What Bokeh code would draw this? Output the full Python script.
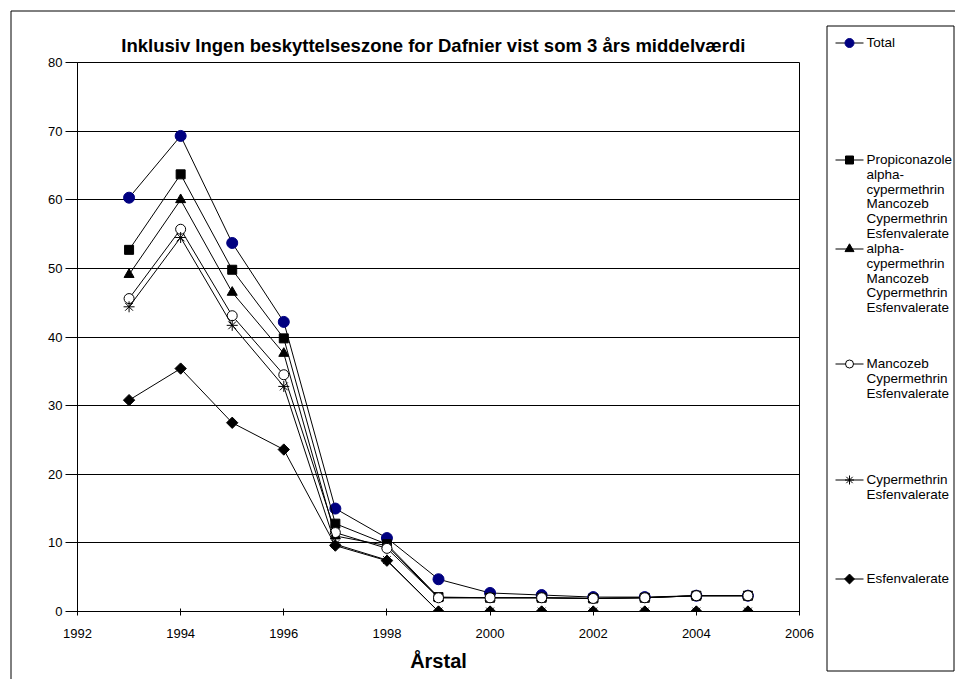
import math
from bokeh.plotting import figure
from bokeh.models import Range1d, FixedTicker
from bokeh.embed import file_html
from bokeh.resources import INLINE
from bokeh.core.properties import value

# ---------------- data ----------------
years = [1993, 1994, 1995, 1996, 1997, 1998, 1999, 2000, 2001, 2002, 2003, 2004, 2005]
total = [60.3, 69.3, 53.7, 42.2, 15.0, 10.7, 4.7, 2.7, 2.4, 2.1, 2.1, 2.3, 2.3]
propiconazole_etc = [52.7, 63.7, 49.8, 39.8, 12.8, 9.8, 2.1, 2.0, 2.0, 1.9, 2.0, 2.3, 2.3]
alpha_cyper_etc = [49.1, 60.0, 46.5, 37.6, 11.0, 9.6, 2.0, 2.0, 2.0, 1.9, 2.0, 2.3, 2.3]
mancozeb_etc = [45.6, 55.7, 43.1, 34.5, 11.5, 9.2, 2.0, 2.0, 2.0, 1.9, 2.0, 2.3, 2.3]
cypermethrin_etc = [44.4, 54.5, 41.7, 32.8, 9.8, 7.5, 0.0, 0.0, 0.0, 0.0, 0.0, 0.0, 0.0]
esfenvalerate = [30.8, 35.4, 27.5, 23.6, 9.6, 7.4, 0.0, 0.0, 0.0, 0.0, 0.0, 0.0, 0.0]

series_labels = [
    ["Total"],
    ["Propiconazole", "alpha-", "cypermethrin", "Mancozeb", "Cypermethrin", "Esfenvalerate"],
    ["alpha-", "cypermethrin", "Mancozeb", "Cypermethrin", "Esfenvalerate"],
    ["Mancozeb", "Cypermethrin", "Esfenvalerate"],
    ["Cypermethrin", "Esfenvalerate"],
    ["Esfenvalerate"],
]
x_ticks = [1992, 1994, 1996, 1998, 2000, 2002, 2004, 2006]
y_ticks = [0, 10, 20, 30, 40, 50, 60, 70, 80]
title_text = "Inklusiv Ingen beskyttelseszone for Dafnier vist som   3 års middelværdi"
x_title = "Årstal"

FONT = "Liberation Sans"
NAVY = "#000080"
W, H = 955, 679

series = [total, propiconazole_etc, alpha_cyper_etc, mancozeb_etc, cypermethrin_etc, esfenvalerate]
styles = [
    dict(marker="circle", size=11, fill_color=NAVY, line_color=NAVY),
    dict(marker="square", size=9, fill_color="black", line_color="black"),
    dict(marker="triangle", size=10, fill_color="black", line_color="black"),
    dict(marker="circle", size=10, fill_color="white", line_color="black"),
    dict(marker="asterisk", size=11, fill_color="black", line_color="black"),
    dict(marker="square", size=8, angle=math.pi / 4, fill_color="black", line_color="black"),
]
legend_sizes = [9, 8, 9, 8, 9, 7]

# ---------------- background: chart border + legend ----------------
bg = figure(width=W, height=H,
            x_range=Range1d(0, W), y_range=Range1d(H, 0),
            output_backend="svg", toolbar_location=None,
            x_axis_type=None, y_axis_type=None, min_border=0)
bg.grid.visible = False
bg.outline_line_color = None
bg.background_fill_color = "white"
bg.border_fill_color = "white"

# outer chart border (left and top edges visible)
bg.line([10.5, 10.5, W], [H, 10.5, 10.5], line_color="black", line_width=1)

# legend box
bg.quad(left=826.5, right=953.5, top=25.5, bottom=670.5,
        fill_color="white", line_color="black", line_width=1)

item_y = [42, 159, 248, 363, 479, 578]
line_h = 14.8
for yy, st, lsz, labels in zip(item_y, styles, legend_sizes, series_labels):
    bg.line([835, 863], [yy + 0.5, yy + 0.5], line_color="black", line_width=1)
    sst = dict(st)
    sst["size"] = lsz
    bg.scatter([849], [yy + 0.5], **sst)
    bg.text(x=[866] * len(labels), y=[yy + i * line_h for i in range(len(labels))],
            text=labels, text_font=value(FONT), text_font_size="13.5px",
            text_baseline="middle", text_align="left", text_color="black")

# ---------------- main plot (overlaid at page origin) ----------------
p = figure(width=820, height=H,
           x_range=Range1d(1992, 2006), y_range=Range1d(0, 80),
           output_backend="svg", toolbar_location=None,
           min_border_left=77, min_border_right=21,
           min_border_top=62, min_border_bottom=68,
           styles={"position": "absolute", "left": "0px", "top": "0px"})
p.border_fill_color = None
p.background_fill_color = "white"

p.title.text = title_text
p.title.align = "center"
p.title.text_font = FONT
p.title.text_font_size = "18.5px"
p.title.text_font_style = "bold"
p.title.text_color = "black"
p.title.standoff = 14

p.outline_line_color = "black"
p.xgrid.grid_line_color = None
p.ygrid.grid_line_color = "black"
p.ygrid.grid_line_width = 1
p.ygrid.ticker = FixedTicker(ticks=y_ticks)

p.xaxis.ticker = FixedTicker(ticks=x_ticks)
p.yaxis.ticker = FixedTicker(ticks=y_ticks)
for ax in (p.xaxis[0], p.yaxis[0]):
    ax.axis_line_color = "black"
    ax.major_tick_line_color = "black"
    ax.minor_tick_line_color = None
    ax.major_label_text_font = FONT
    ax.major_label_text_font_size = "13px"
    ax.major_label_text_color = "black"

p.xaxis.major_tick_in = 3
p.xaxis.major_tick_out = 4
p.xaxis.major_label_standoff = 13
p.xaxis.axis_label = x_title
p.xaxis.axis_label_text_font = FONT
p.xaxis.axis_label_text_font_size = "20px"
p.xaxis.axis_label_text_font_style = "bold"
p.xaxis.axis_label_text_color = "black"
p.xaxis.axis_label_standoff = 9

p.yaxis.major_tick_in = 0
p.yaxis.major_tick_out = 12
p.yaxis.major_label_standoff = 3

for ys, st in zip(series, styles):
    p.line(years, ys, line_color="black", line_width=1)
    p.scatter(years, ys, **st)

open("out.html", "w").write(file_html([bg, p], INLINE))
